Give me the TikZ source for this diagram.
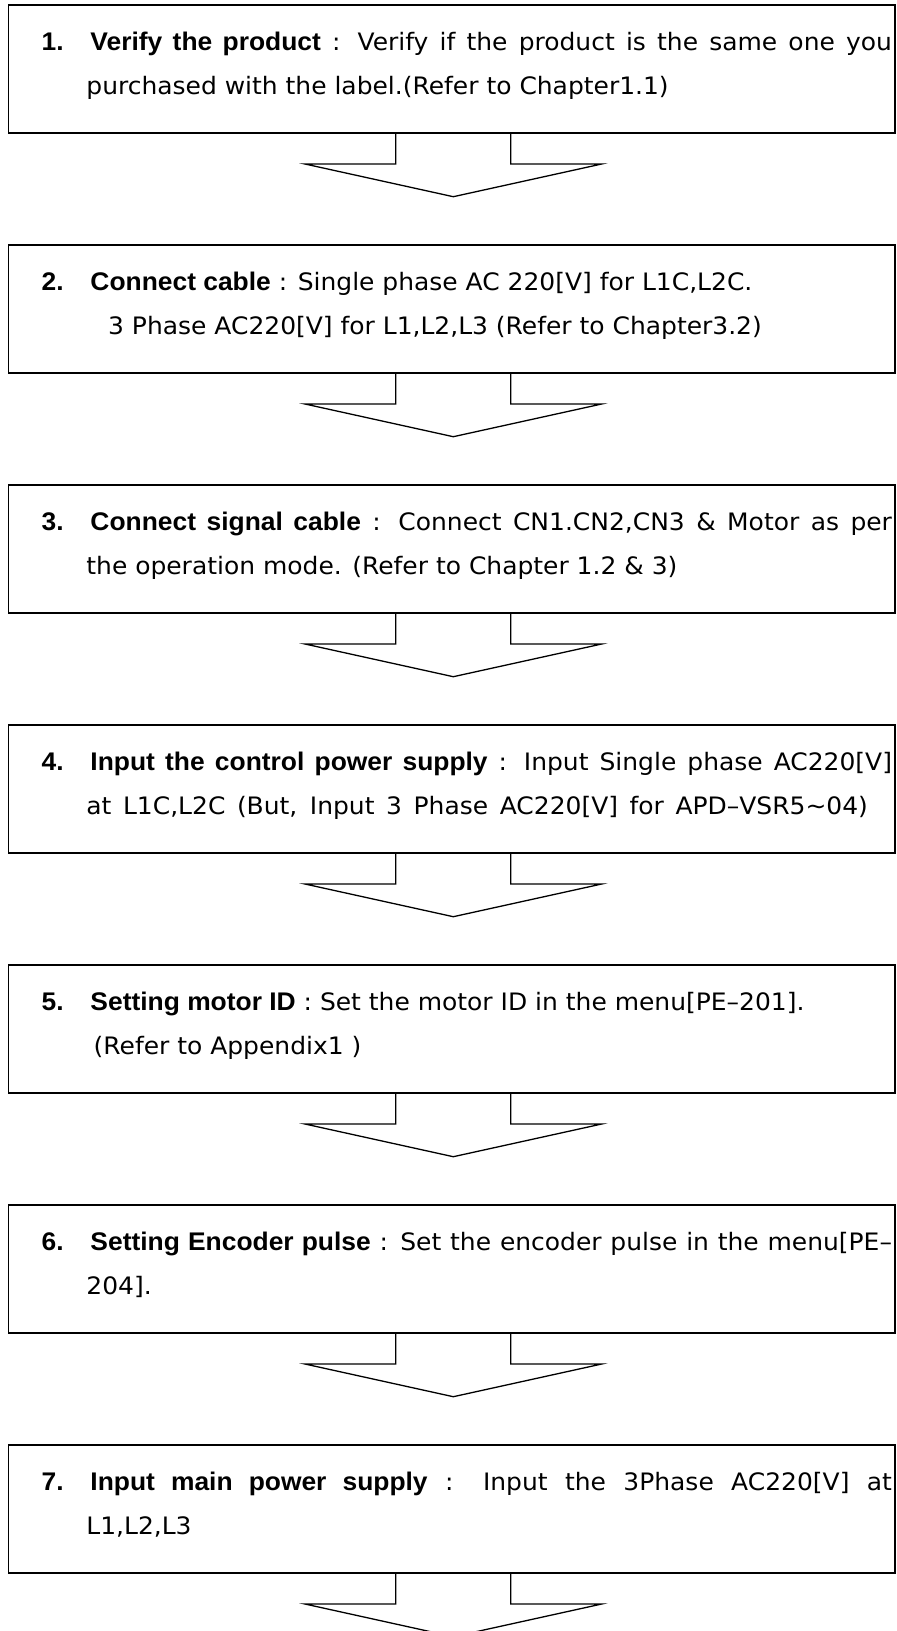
\documentclass[tikz,border=0pt]{standalone}
\usepackage{fontspec}
\newfontfamily\bodyfont{DejaVu Sans}[FakeStretch=1.04]
\newfontfamily\headfont{Liberation Sans}[FakeStretch=1.035]
\usetikzlibrary{calc}
\newcommand{\hd}[1]{{\headfont\bfseries\fontsize{25.5pt}{25.5pt}\selectfont #1}}
\newcommand{\num}[1]{\makebox[48.9pt][l]{\hd{#1}}}
\newcommand{\jline}[1]{\makebox[850.4pt][s]{#1}}
\tikzset{
  stepbox/.style={draw, line width=1.6pt, rectangle, minimum width=886.7pt,
    minimum height=127.7pt, anchor=north west, inner sep=0pt, outer sep=0pt},
  txt/.style={anchor=base west, inner sep=0pt, outer sep=0pt,
    font=\bodyfont\fontsize{24pt}{24pt}\selectfont},
  blockarrow/.style={draw, line width=1.3pt, line join=miter}
}
\begin{document}
\begin{tikzpicture}[x=1pt,y=-1pt]
\useasboundingbox (0,0) rectangle (897,1631);
\clip (0,0) rectangle (897,1631);
\fill[white] (0,0) rectangle (897,1631);
% boxes
\node[stepbox] (b1) at (8.3,5) {};
\node[stepbox] (b2) at (8.3,245) {};
\node[stepbox] (b3) at (8.3,485) {};
\node[stepbox] (b4) at (8.3,725) {};
\node[stepbox] (b5) at (8.3,965) {};
\node[stepbox] (b6) at (8.3,1205) {};
\node[stepbox] (b7) at (8.3,1445) {};
% arrows
\foreach \b in {b1,b2,b3,b4,b5,b6,b7}{
  \draw[blockarrow] ([xshift=387.4pt]\b.south west) -- ++(0,31.3) -- ++(-90.7,0)
    -- ++(148.3,32.7) -- ++(148.4,-32.7) -- ++(-91,0) -- ++(0,-31.3);
}
% texts
\node[txt] (t1a) at (41.6,50) {\jline{\num{1.}\hd{Verify the product} : Verify if the product is the same one you}};
\node[txt] (t1b) at (86.4,94) {purchased with the label.(Refer to Chapter1.1)};
\node[txt] (t2a) at (41.6,290) {\num{2.}\hd{Connect cable} : Single phase AC 220[V] for L1C,L2C.};
\node[txt] (t2b) at (108.2,334) {3 Phase AC220[V] for L1,L2,L3 (Refer to Chapter3.2)};
\node[txt] (t3a) at (41.6,530) {\jline{\num{3.}\hd{Connect signal cable} : Connect CN1.CN2,CN3 \& Motor as per}};
\node[txt] (t3b) at (86.4,574) {the operation mode. (Refer to Chapter 1.2 \& 3)};
\node[txt] (t4a) at (41.6,770) {\jline{\num{4.}\hd{Input the control power supply} : Input Single phase AC220[V]}};
\node[txt] (t4b) at (86.4,814) {\makebox[781.6pt][s]{at L1C,L2C (But, Input 3 Phase AC220[V] for APD–VSR5∼04)}};
\node[txt] (t5a) at (41.6,1010) {\num{5.}\hd{Setting motor ID} : Set the motor ID in the menu[PE–201].};
\node[txt] (t5b) at (93.7,1054) {(Refer to Appendix1 )};
\node[txt] (t6a) at (41.6,1250) {\jline{\num{6.}\hd{Setting Encoder pulse} : Set the encoder pulse in the menu[PE–}};
\node[txt] (t6b) at (86.4,1294) {204].};
\node[txt] (t7a) at (41.6,1490) {\jline{\num{7.}\hd{Input main power supply} : Input the 3Phase AC220[V] at}};
\node[txt] (t7b) at (86.4,1534) {L1,L2,L3};
\end{tikzpicture}
\end{document}
